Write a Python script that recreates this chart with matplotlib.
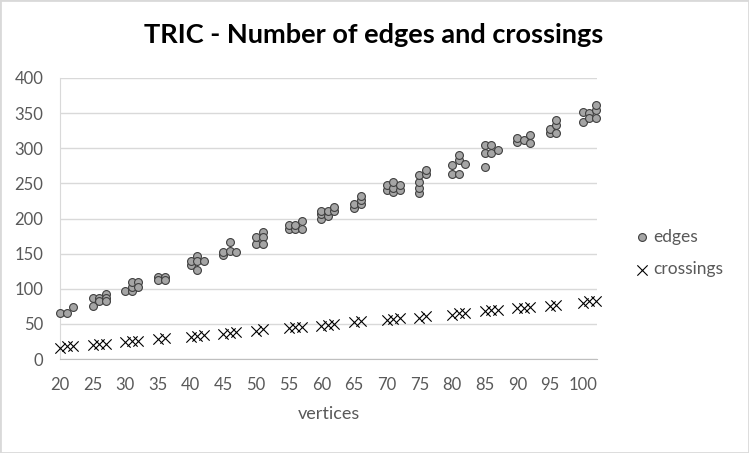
import matplotlib
matplotlib.use('Agg')
import matplotlib.pyplot as plt
from matplotlib.patches import Rectangle

plt.rcParams['font.family'] = ['Lato', 'DejaVu Sans']

# edges per run (several runs per vertex count)
edges_x = [20, 21, 22, 25, 25, 26, 26, 27, 27, 27, 30, 31, 31, 31, 32, 32,
           35, 35, 36, 36, 40, 40, 41, 41, 41, 42, 45, 45, 46, 46, 47,
           50, 50, 51, 51, 51, 55, 55, 56, 56, 57, 57, 60, 60, 60, 61, 61, 62, 62,
           65, 65, 66, 66, 66, 70, 70, 71, 71, 71, 72, 72, 75, 75, 75, 75, 76, 76,
           80, 80, 81, 81, 81, 82, 85, 85, 85, 86, 86, 87, 90, 90, 91, 92, 92,
           95, 95, 96, 96, 96, 100, 100, 101, 101, 102, 102, 102]
edges_y = [66, 65, 74, 76, 87, 87, 82, 93, 87, 82, 97, 97, 103, 110, 110, 103,
           117, 112, 117, 112, 134, 139, 146, 139, 127, 139, 148, 153, 166, 154, 153,
           164, 174, 181, 174, 164, 185, 191, 185, 191, 185, 197, 199, 206, 211, 204, 210, 211, 217,
           215, 221, 221, 226, 232, 241, 248, 238, 244, 252, 241, 248, 237, 244, 252, 262, 264, 269,
           264, 276, 264, 283, 290, 278, 274, 293, 305, 293, 305, 298, 309, 314, 312, 319, 308,
           322, 328, 322, 333, 340, 338, 351, 350, 343, 343, 354, 362]

crossings_x = [20, 21, 22, 25, 26, 27, 30, 31, 32, 35, 36, 40, 41, 42, 45, 46, 47,
               50, 51, 55, 56, 57, 60, 61, 62, 65, 66, 70, 71, 72, 75, 76,
               80, 81, 82, 85, 86, 87, 90, 91, 92, 95, 96, 100, 101, 102]
crossings_y = [16, 18, 19, 20, 21, 22, 24, 25, 26, 28, 30, 32, 33, 34, 35, 37, 38,
               40, 42, 44, 46, 46, 47, 49, 50, 52, 54, 55, 57, 58, 59, 61,
               63, 65, 66, 68, 70, 70, 72, 73, 74, 75, 77, 80, 82, 83]

x_ticks = list(range(20, 101, 5))
y_ticks = list(range(0, 401, 50))

W, H = 749, 453
fig = plt.figure(figsize=(W / 100, H / 100), dpi=100)
ax = fig.add_axes([60 / W, 1 - 359 / H, (597 - 60) / W, (359 - 78) / H])

ax.scatter(edges_x, edges_y, s=32, marker='o', facecolor='#A5A5A5',
           edgecolor='#3F3F3F', linewidths=0.8, zorder=3, clip_on=False, label='edges')
ax.scatter(crossings_x, crossings_y, s=55, marker='x', color='black',
           linewidths=0.8, zorder=3, clip_on=False, label='crossings')

ax.set_xlim(20, 102.2)
ax.set_ylim(0, 400)
ax.set_xticks(x_ticks)
ax.set_yticks(y_ticks)
ax.tick_params(length=0, labelsize=12, colors='#595959')
ax.tick_params(axis='x', pad=13)
ax.tick_params(axis='y', pad=12)
ax.grid(axis='y', color='#D9D9D9', linewidth=1)
ax.set_axisbelow(True)
for side in ['top', 'right']:
    ax.spines[side].set_visible(False)
ax.spines['left'].set_color('#D9D9D9')
ax.spines['bottom'].set_color('#BFBFBF')

ax.set_xlabel('vertices', fontsize=13, color='#595959', labelpad=9)

fig.text(374 / W, 1 - 35 / H, 'TRIC - Number of edges and crossings',
         ha='center', va='center', fontsize=19.5, fontweight='bold', color='black')

leg = ax.legend(loc='center left', bbox_to_anchor=(633 / W, 1 - 253 / H),
                bbox_transform=fig.transFigure, frameon=False,
                fontsize=12.5, handlelength=1.0, handletextpad=0.15,
                labelspacing=0.95, borderpad=0, borderaxespad=0)
for t in leg.get_texts():
    t.set_color('#595959')

fig.add_artist(Rectangle((0, 0), 1, 1, transform=fig.transFigure, fill=False,
                         edgecolor='#D9D9D9', linewidth=2))

fig.savefig('out.png', dpi=100)
